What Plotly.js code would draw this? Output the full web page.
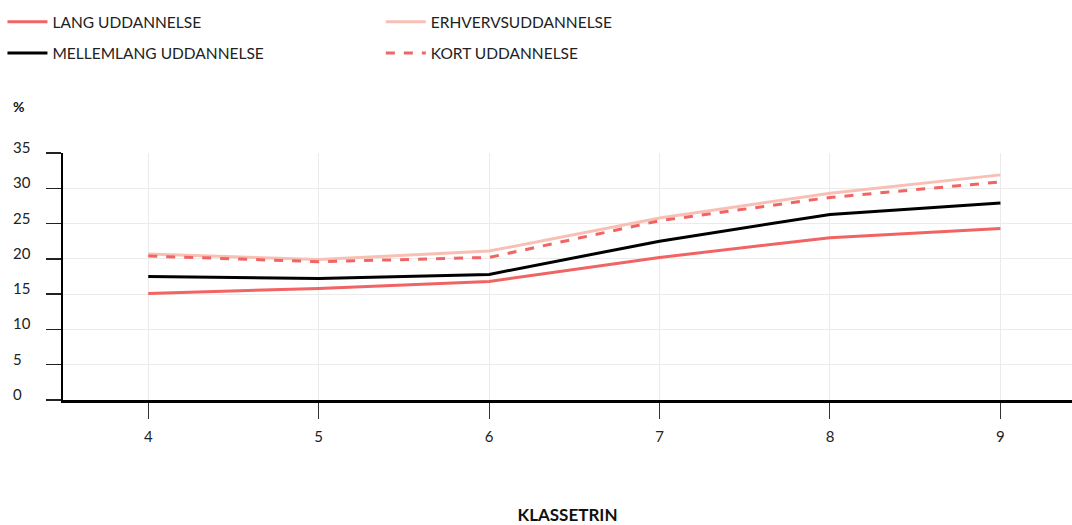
<!DOCTYPE html>
<html>
<head>
<meta charset="utf-8">
<script src="https://cdn.plot.ly/plotly-3.0.1.min.js"></script>
<style>html,body{margin:0;padding:0;background:#fff;}#chart{width:1072px;height:525px;}</style>
</head>
<body>
<div id="chart"></div>
<script>
const klassetrin = [4, 5, 6, 7, 8, 9];
const xTickLabels = ['4', '5', '6', '7', '8', '9'];
const yTicks = [0, 5, 10, 15, 20, 25, 30, 35];
const langUddannelse = [15.1, 15.8, 16.8, 20.2, 23.0, 24.3];
const mellemlangUddannelse = [17.5, 17.2, 17.8, 22.5, 26.3, 27.9];
const erhvervsuddannelse = [20.7, 19.9, 21.1, 25.8, 29.3, 31.9];
const kortUddannelse = [20.4, 19.6, 20.2, 25.4, 28.7, 30.9];
const seriesNames = ['LANG UDDANNELSE', 'MELLEMLANG UDDANNELSE', 'ERHVERVSUDDANNELSE', 'KORT UDDANNELSE'];

const FONT = 'Lato, "Open Sans", sans-serif';
const traces = [
  {x: klassetrin, y: langUddannelse, name: seriesNames[0], mode: 'lines', line: {color: '#f26363', width: 3}, legend: 'legend', legendgroup: 'a'},
  {x: klassetrin, y: erhvervsuddannelse, name: seriesNames[2], mode: 'lines', line: {color: '#f8c0b5', width: 3}, legend: 'legend2', legendgroup: 'c'},
  {x: klassetrin, y: mellemlangUddannelse, name: seriesNames[1], mode: 'lines', line: {color: '#000000', width: 3}, legend: 'legend', legendgroup: 'b'},
  {x: klassetrin, y: kortUddannelse, name: seriesNames[3], mode: 'lines', line: {color: '#f26363', width: 3, dash: 'dash'}, legend: 'legend2', legendgroup: 'd'}
];

const annotations = yTicks.map(v => ({
  xref: 'paper', yref: 'y', x: -0.0515, y: v, text: String(v), showarrow: false,
  xanchor: 'left', yanchor: 'middle', yshift: 6, font: {family: FONT, size: 15, color: '#222'}
}));
annotations.push({xref: 'paper', yref: 'paper', x: -0.0515, y: 1.19, xanchor: 'left', yanchor: 'middle',
  text: '<b>%</b>', showarrow: false, font: {family: FONT, size: 14, color: '#111'}});

const legendCommon = {xanchor: 'left', y: 1.598, yanchor: 'top', orientation: 'v', tracegroupgap: 8,
  font: {family: FONT, size: 15.5, color: '#222'}, bgcolor: 'rgba(0,0,0,0)', itemwidth: 40, traceorder: 'grouped'};

const layout = {
  width: 1072, height: 525,
  margin: {l: 63, r: 0, t: 153, b: 125},
  paper_bgcolor: '#fff', plot_bgcolor: '#fff',
  font: {family: FONT, size: 14, color: '#222'},
  showlegend: true,
  legend: Object.assign({x: -0.06}, legendCommon),
  legend2: Object.assign({x: 0.315}, legendCommon),
  xaxis: {
    range: [3.5, 9.42], tickvals: klassetrin, ticktext: xTickLabels,
    showgrid: true, gridcolor: '#ebebeb', gridwidth: 1,
    showline: true, linecolor: '#000', linewidth: 3,
    ticks: 'outside', ticklen: 16, tickcolor: '#333', tickwidth: 1,
    ticklabelstandoff: 5,
    tickfont: {family: FONT, size: 15, color: '#222'},
    zeroline: false,
    title: {text: '<b>KLASSETRIN</b>', font: {family: FONT, size: 17, color: '#111'}, standoff: 70}
  },
  yaxis: {
    range: [0, 35], tickvals: yTicks, showticklabels: false,
    showgrid: true, gridcolor: '#ebebeb', gridwidth: 1,
    showline: true, linecolor: '#000', linewidth: 2.5,
    ticks: 'outside', ticklen: 15, tickcolor: '#222', tickwidth: 1.5,
    zeroline: false
  },
  annotations: annotations
};

Plotly.newPlot('chart', traces, layout, {displayModeBar: false, staticPlot: true});
</script>
</body>
</html>
